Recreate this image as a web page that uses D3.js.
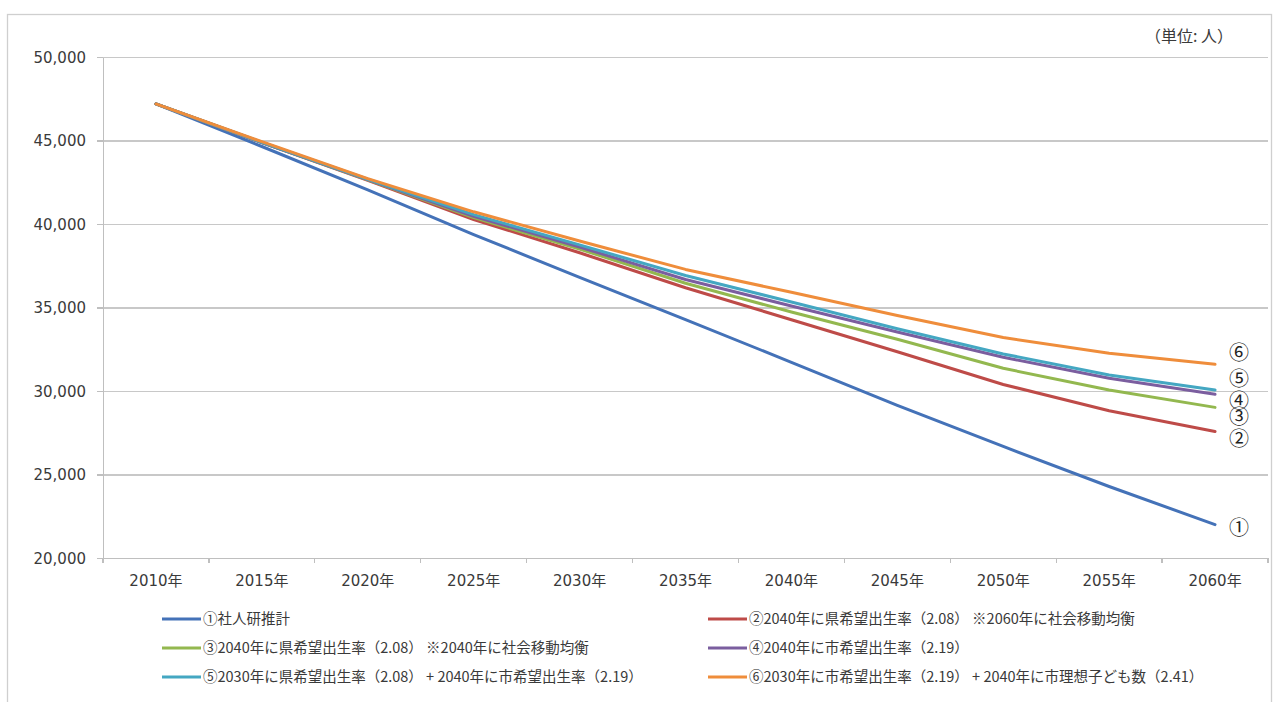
<!DOCTYPE html>
<meta charset="utf-8">
<style>
body { margin: 0; background: #fff; }
svg { display: block; }
.num { font-family: "DejaVu Sans", "Noto Sans CJK JP", sans-serif; font-size: 15px; fill: #3a3a3a; }
.jp { font-family: "Noto Sans CJK JP", sans-serif; fill: #3a3a3a; }
.grid line { stroke: #c8c8c8; stroke-width: 1.3; shape-rendering: crispEdges; }
.grid path { stroke-width: 0; }
.axis path, .axis line { stroke: #bfbfbf; stroke-width: 1.3; shape-rendering: crispEdges; fill: none; }
.series { fill: none; stroke-width: 3; stroke-linejoin: round; stroke-linecap: round; }
</style>
<body>
<script src="https://cdn.jsdelivr.net/npm/d3@7"></script>
<script>
// data
var years = ["2010年","2015年","2020年","2025年","2030年","2035年","2040年","2045年","2050年","2055年","2060年"];
var yTicks = [20000, 25000, 30000, 35000, 40000, 45000, 50000];

var s1 = [47190, 44640, 42050, 39370, 36800, 34270, 31720, 29140, 26680, 24280, 22000];
var s2 = [47190, 44880, 42620, 40270, 38280, 36180, 34270, 32350, 30390, 28820, 27580];
var s3 = [47190, 44880, 42640, 40380, 38500, 36450, 34730, 33100, 31360, 30060, 29020];
var s4 = [47190, 44880, 42660, 40460, 38620, 36680, 35090, 33530, 32020, 30760, 29800];
var s5 = [47190, 44890, 42680, 40560, 38750, 36920, 35330, 33730, 32220, 30960, 30060];
var s6 = [47190, 44930, 42720, 40730, 38980, 37280, 35910, 34520, 33200, 32260, 31600];

var names = [
  "①社人研推計",
  "②2040年に県希望出生率（2.08） ※2060年に社会移動均衡",
  "③2040年に県希望出生率（2.08） ※2040年に社会移動均衡",
  "④2040年に市希望出生率（2.19）",
  "⑤2030年に県希望出生率（2.08） + 2040年に市希望出生率（2.19）",
  "⑥2030年に市希望出生率（2.19） + 2040年に市理想子ども数（2.41）"
];
var marks = ["①","②","③","④","⑤","⑥"];
var colors = ["#4472b8", "#be4b48", "#93b84f", "#7b5e9f", "#44a7c2", "#ef8d3b"];

var series = [s1, s2, s3, s4, s5, s6];

var W = 1281, H = 702;
var plot = {left: 103, right: 1268, top: 57, bottom: 558};

var svg = d3.select("body").append("svg")
  .attr("width", W).attr("height", H);

// chart frame
svg.append("rect")
  .attr("x", 7.5).attr("y", 14.5)
  .attr("width", 1264).attr("height", 700)
  .attr("fill", "none").attr("stroke", "#cfcfcf").attr("stroke-width", 1.3);

var x = d3.scaleBand().domain(years).range([plot.left, plot.right]).padding(0);
var y = d3.scaleLinear().domain([20000, 50000]).range([plot.bottom, plot.top]);
function cx(i) { return x(years[i]) + x.bandwidth() / 2; }

// horizontal gridlines
svg.append("g")
  .attr("class", "grid")
  .attr("transform", "translate(" + plot.left + ",0)")
  .call(d3.axisLeft(y).tickValues(yTicks.slice(1)).tickSize(-(plot.right - plot.left)).tickFormat(""));

// y axis
var ya = svg.append("g")
  .attr("class", "axis")
  .attr("transform", "translate(" + plot.left + ",0)")
  .call(d3.axisLeft(y).tickValues(yTicks).tickSize(6).tickSizeOuter(0).tickPadding(11).tickFormat(d3.format(",")));
ya.selectAll("text").attr("class", "num").attr("dy", "0.36em");

// x axis
var xa = svg.append("g")
  .attr("class", "axis")
  .attr("transform", "translate(0," + plot.bottom + ")")
  .call(d3.axisBottom(x).tickSize(0).tickSizeOuter(0).tickPadding(17));
xa.selectAll("text").attr("class", "num");
// Excel style ticks between categories
xa.selectAll("line.between")
  .data(d3.range(years.length + 1))
  .enter().append("line")
  .attr("class", "between")
  .attr("x1", function(i) { return plot.left + i * x.bandwidth(); })
  .attr("x2", function(i) { return plot.left + i * x.bandwidth(); })
  .attr("y1", 0).attr("y2", 5);

// lines
var line = d3.line()
  .x(function(d, i) { return cx(i); })
  .y(function(d) { return y(d); });

svg.selectAll("path.series")
  .data(series)
  .enter().append("path")
  .attr("class", "series")
  .attr("stroke", function(d, i) { return colors[i]; })
  .attr("d", line);

// end markers ①..⑥, nudged apart a bit like the original
var nudge = [3, 8, 10, 7, -11, -11];
svg.selectAll("text.endlab")
  .data(series)
  .enter().append("text")
  .attr("class", "jp endlab")
  .attr("x", cx(years.length - 1) + 24)
  .attr("y", function(d, i) { return y(d[d.length - 1]) + nudge[i]; })
  .attr("dy", "0.35em")
  .attr("text-anchor", "middle")
  .style("font-size", "20px")
  .style("fill", "#222")
  .text(function(d, i) { return marks[i]; });

// unit
svg.append("text")
  .attr("class", "jp")
  .attr("x", 1233).attr("y", 36)
  .attr("dy", "0.35em")
  .attr("text-anchor", "end")
  .style("font-size", "16px")
  .text("（単位: 人）");

// legend: two columns, three rows
var legend = svg.selectAll("g.leg")
  .data(names)
  .enter().append("g")
  .attr("class", "leg")
  .attr("transform", function(d, i) {
    var col = i % 2, row = Math.floor(i / 2);
    return "translate(" + (col === 0 ? 162 : 708) + "," + (619 + row * 29) + ")";
  });
legend.append("line")
  .attr("x1", 0).attr("x2", 39)
  .attr("stroke", function(d, i) { return colors[i]; })
  .attr("stroke-width", 3);
legend.append("text")
  .attr("class", "jp")
  .attr("x", 41)
  .attr("dy", "0.35em")
  .style("font-size", "14.5px")
  .text(function(d) { return d; });
</script>
